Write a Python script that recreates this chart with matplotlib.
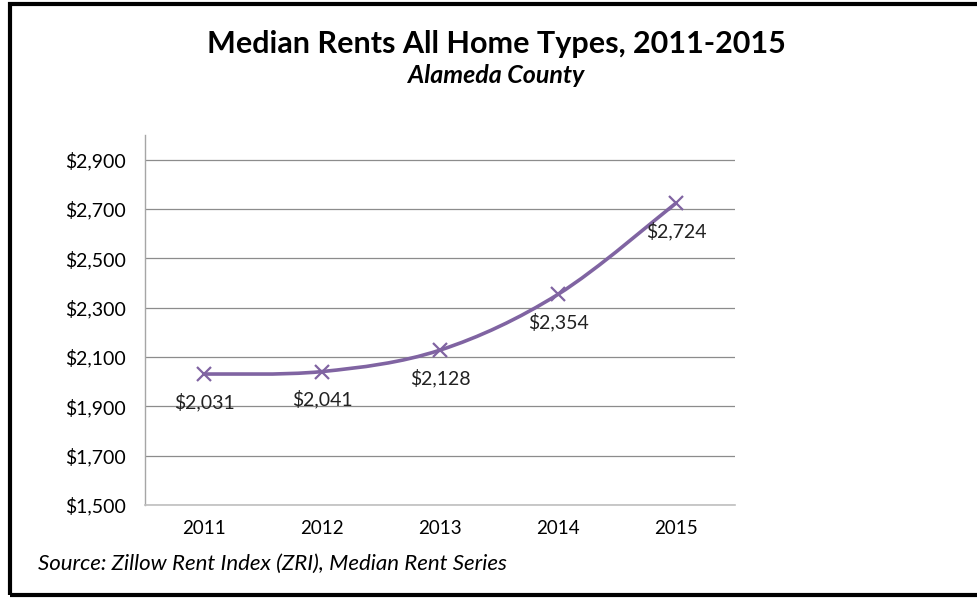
import matplotlib
matplotlib.use("Agg")
import matplotlib.pyplot as plt
from matplotlib.path import Path
from matplotlib.patches import PathPatch, Rectangle

years = ["2011", "2012", "2013", "2014", "2015"]
rents = [2031, 2041, 2128, 2354, 2724]
y_ticks = [1500, 1700, 1900, 2100, 2300, 2500, 2700, 2900]
y_tick_labels = ["$1,500", "$1,700", "$1,900", "$2,100", "$2,300", "$2,500", "$2,700", "$2,900"]

title = "Median Rents All Home Types, 2011-2015"
subtitle = "Alameda County"
source = "Source: Zillow Rent Index (ZRI), Median Rent Series"

plt.rcParams["font.family"] = ["Lato", "DejaVu Sans"]
purple = "#8064A2"
grid_gray = "#8C8C8C"


def smooth_path(xs, ys):
    # Excel-style smoothed line: cubic Bezier through the points
    pts = list(zip(xs, ys))
    verts = [pts[0]]
    codes = [Path.MOVETO]
    n = len(pts)
    for i in range(n - 1):
        p0 = pts[i - 1] if i > 0 else pts[i]
        p1 = pts[i]
        p2 = pts[i + 1]
        p3 = pts[i + 2] if i + 2 < n else pts[i + 1]
        c1 = (p1[0] + (p2[0] - p0[0]) / 6, p1[1] + (p2[1] - p0[1]) / 6)
        c2 = (p2[0] - (p3[0] - p1[0]) / 6, p2[1] - (p3[1] - p1[1]) / 6)
        verts += [c1, c2, p2]
        codes += [Path.CURVE4] * 3
    return Path(verts, codes)


fig = plt.figure(figsize=(9.77, 5.99), dpi=100)
ax = fig.add_axes([0.1484, 0.1569, 0.6039, 0.6177])

x = list(range(len(years)))
ax.add_patch(PathPatch(smooth_path(x, rents), facecolor="none",
                       edgecolor=purple, lw=2.6, zorder=3))
ax.plot(x, rents, linestyle="none", marker="x", color=purple,
        markersize=10, mew=1.6, zorder=4)

for xi, v in zip(x, rents):
    ax.annotate(f"${v:,}", (xi, v), xytext=(0, -20), textcoords="offset points",
                ha="center", va="center", fontsize=14, color="#222222")

ax.set_xlim(-0.5, len(years) - 0.5)
ax.set_ylim(1500, 3000)
ax.set_xticks(x)
ax.set_xticklabels(years, fontsize=13.5)
ax.set_yticks(y_ticks)
ax.set_yticklabels(y_tick_labels, fontsize=14)
ax.tick_params(length=0, pad=11)
ax.tick_params(axis="y", pad=14)

ax.grid(axis="y", color=grid_gray, lw=0.9)
ax.set_axisbelow(True)
for side in ["top", "right"]:
    ax.spines[side].set_visible(False)
ax.spines["left"].set_color("#A6A6A6")
ax.spines["bottom"].set_color("#BFBFBF")
ax.spines["left"].set_linewidth(1.0)
ax.spines["bottom"].set_linewidth(1.2)

fig.text(0.508, 0.927, title, ha="center", va="center", fontsize=22, fontweight="bold")
fig.text(0.508, 0.874, subtitle, ha="center", va="center", fontsize=18,
         fontweight="bold", style="italic")
fig.text(0.039, 0.058, source, ha="left", va="center", fontsize=16, style="italic")

fig.add_artist(Rectangle((9.5 / 977, 4 / 599), 2, 591 / 599, transform=fig.transFigure,
                         fill=False, edgecolor="black", lw=3))

fig.savefig("out.png", dpi=100)
plt.close(fig)
